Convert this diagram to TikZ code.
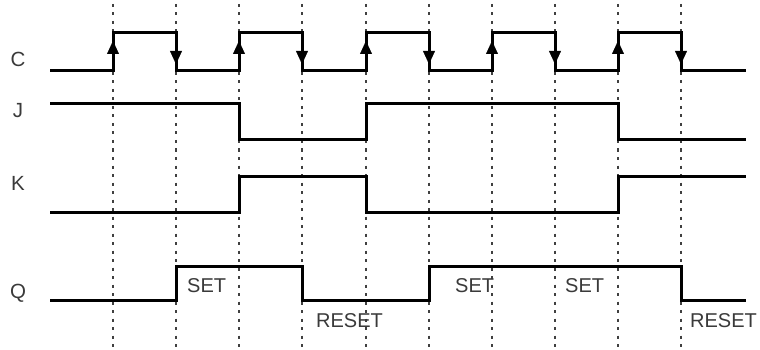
\documentclass[tikz,border=0pt]{standalone}
\usepackage{fontspec}
\setmainfont{Liberation Sans}
\usetikzlibrary{arrows.meta}
\definecolor{txtgray}{HTML}{3A3A3A}
\definecolor{gridgray}{HTML}{404040}
\tikzset{
  signal/.style={line width=3pt, black, line join=miter},
  gridline/.style={line width=1.5pt, gridgray, dash pattern=on 3pt off 5.5pt},
  edgearrow/.style={line width=0.1pt, -{Triangle[width=12pt,length=13pt]}, black},
  siglabel/.style={font=\fontsize{20.5}{24}\selectfont, text=txtgray, inner sep=0pt, anchor=base},
  statelabel/.style={font=\fontsize{20}{24}\selectfont, text=txtgray, inner sep=0pt, anchor=base west}
}
\begin{document}
\begin{tikzpicture}[x=1pt,y=-1pt]
\fill[white] (0,0) rectangle (760,350);
\useasboundingbox (0,0) rectangle (760,350);
% dotted time grid
\foreach \t in {113,176,239,302,366,429,492,555,618,681}
  \draw[gridline] (\t,4) -- (\t,350);
% signal names
\node[siglabel] (lc) at (18,67) {C};
\node[siglabel] (lj) at (18,118) {J};
\node[siglabel] (lk) at (18,190) {K};
\node[siglabel] (lq) at (18,298) {Q};
% clock
\draw[signal] (50,71) -| (113,33) -| (176,71) -| (239,33) -| (302,71) -| (366,33)
  -| (429,71) -| (492,33) -| (555,71) -| (618,33) -| (681,71) -- (746,71);
% edge arrows
\foreach \t in {113,239,366,492,618}
  \draw[edgearrow] (\t,55) -- (\t,41);
\foreach \t in {176,302,429,555,681}
  \draw[edgearrow] (\t,49) -- (\t,64);
% J
\draw[signal] (50,104) -| (239,140) -| (366,104) -| (618,140) -- (746,140);
% K
\draw[signal] (50,212) -| (239,176) -| (366,212) -| (618,176) -- (746,176);
% Q
\draw[signal] (50,300) -| (176,266) -| (302,300) -| (429,266) -| (681,300) -- (746,300);
% state labels
\node[statelabel] (s1) at (187,292) {SET};
\node[statelabel] (r1) at (316,327) {RESET};
\node[statelabel] (s2) at (455,292) {SET};
\node[statelabel] (s3) at (565,292) {SET};
\node[statelabel] (r2) at (690,327) {RESET};
\end{tikzpicture}
\end{document}
